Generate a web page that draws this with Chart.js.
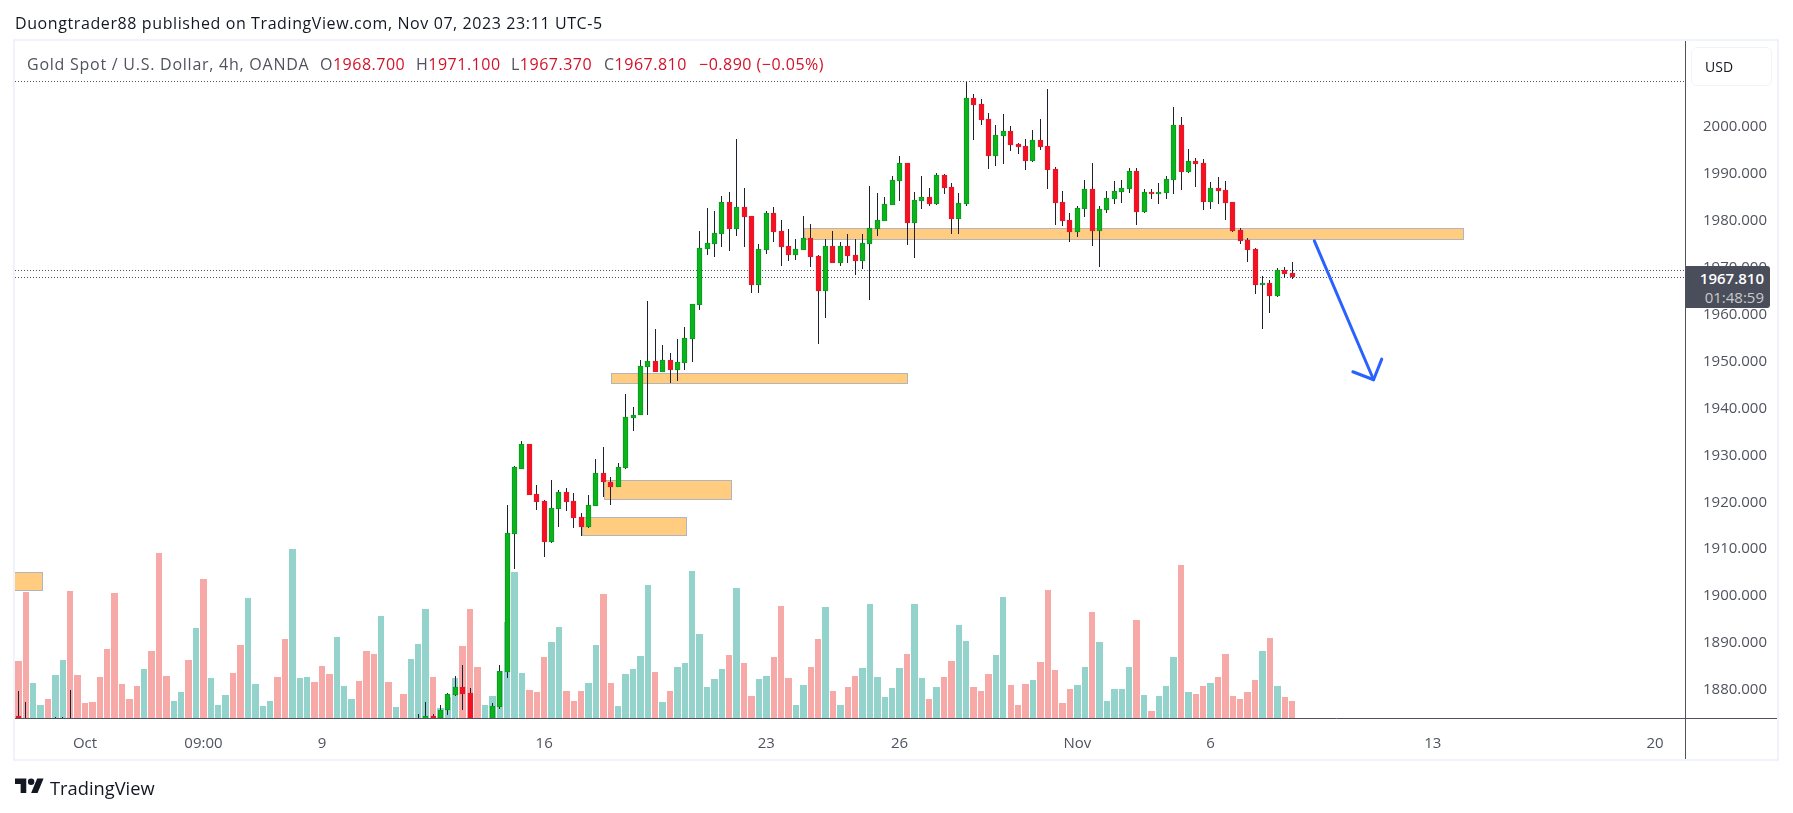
<!DOCTYPE html>
<html>
<head>
<meta charset="utf-8">
<title>Gold Spot / U.S. Dollar, 4h</title>
<script src="https://cdn.jsdelivr.net/npm/chart.js@4/dist/chart.umd.min.js"></script>
<style>
    html, body { margin: 0; padding: 0; background: #fff; overflow: hidden; }
    body { width: 1793px; height: 813px; position: relative; font-family: "Open Sans", sans-serif; }
    #chart { position: absolute; left: 0; top: 0; }
    .txt { position: absolute; white-space: nowrap; line-height: 20px; }
    #published { left: 15px; top: 13px; font-size: 16px; letter-spacing: 0.6px; color: #131722; }
    .legend { top: 54px; font-size: 16px; letter-spacing: 0.5px; color: #50535e; }
    .red { color: #d3122a; }
    #usd { position: absolute; left: 1691px; top: 47px; width: 79px; height: 37px; border: 1px solid #f0f3fa; border-radius: 6px; box-sizing: content-box; }
    #usd span { position: absolute; left: 13px; top: 9px; font-size: 14px; line-height: 20px; color: #131722; }
    #tag { position: absolute; left: 1686px; top: 266px; width: 84px; height: 42px; background: #4a4e5a; border-radius: 0 3px 3px 0; }
    #tag div { position: absolute; left: 0; width: 78px; text-align: right; font-size: 15px; line-height: 20px; }
    #logo { position: absolute; left: 15px; top: 775px; }
    #brand { left: 50px; top: 776px; font-size: 18.3px; line-height: 24px; color: #131722; }
</style>
</head>
<body>
<canvas id="chart" width="1793" height="813"></canvas>

<div class="txt" id="published">Duongtrader88 published on TradingView.com, Nov 07, 2023 23:11 UTC-5</div>

<div class="txt legend" style="left:27px;letter-spacing:0.75px">Gold Spot / U.S. Dollar, 4h, OANDA</div>
<div class="txt legend" style="left:320px">O<span class="red">1968.700</span></div>
<div class="txt legend" style="left:416px">H<span class="red">1971.100</span></div>
<div class="txt legend" style="left:511px">L<span class="red">1967.370</span></div>
<div class="txt legend" style="left:604px">C<span class="red">1967.810</span></div>
<div class="txt legend red" style="left:699px">−0.890 (−0.05%)</div>

<div id="usd"><span>USD</span></div>

<div id="tag">
    <div style="top:2px;color:#fff;font-weight:600">1967.810</div>
    <div style="top:21px;color:#c8c9cc">01:48:59</div>
</div>

<svg id="logo" width="29" height="23" viewBox="0 0 36 28"><path fill="#131722" d="M14 22H7V11H0V4h14v18zM28 22h-8l7.5-18h8L28 22z"/><circle fill="#131722" cx="20" cy="8" r="4"/></svg>
<div class="txt" id="brand">TradingView</div>

<script>
// 4h candles, one slot per bar. null = bar sits wholly below the visible price range
const opens = [
    1874.3, 1872, null, null, null, 1871, 1871, 1871, null, null,
    null, null, null, null, null, null, null, null, null, null,
    null, null, null, null, null, null, null, null, null, null,
    null, null, null, null, null, null, null, null, null, null,
    null, null, null, null, null, null, null, null, null, null,
    null, null, null, null, 1871, 1870, 1874.3, 1873.9, 1875.4, 1878.8,
    1880.5, 1879.2, null, null, 1872, 1876.2, 1883.7, 1913.1, 1926.9, 1932.3,
    1921.6, 1920.1, 1911.4, 1918.4, 1922.0, 1920.1, 1916.7, 1914.6, 1919.0, 1926.1,
    1924.2, 1923.1, 1927.1, 1937.8, 1938.3, 1948.7, 1949.9, 1947.6, 1950.2, 1948.0,
    1949.5, 1954.6, 1961.9, 1973.8, 1974.9, 1977.0, 1983.8, 1978.1, 1982.7, 1980.8,
    1966.1, 1973.6, 1981.5, 1977.6, 1974.4, 1972.5, 1973.6, 1976.1, 1972.3, 1964.8,
    1974.4, 1970.8, 1974.4, 1972.5, 1971.2, 1974.9, 1978.1, 1979.8, 1983.2, 1988.3,
    1992.1, 1979.3, 1984.0, 1984.9, 1983.4, 1989.6, 1987.0, 1980.2, 1983.4, 2006.0,
    2004.7, 2001.5, 1993.6, 1997.9, 1998.9, 1996.2, 1995.7, 1992.5, 1997.0, 1995.7,
    1990.8, 1983.8, 1980.0, 1977.4, 1982.3, 1986.6, 1977.6, 1982.1, 1984.4, 1985.9,
    1986.6, 1990.4, 1981.7, 1985.9, 1985.5, 1985.7, 1988.5, 2000.2, 1990.2, 1992.5,
    1992.1, 1983.8, 1986.8, 1986.4, 1983.8, 1977.8, 1975.7, 1973.8, 1966.1, 1966.6,
    1963.8, 1969.3, 1968.7
];
const highs = [
    1879.6, 1877.3, null, null, null, 1874.1, 1874.1, 1879.8, null, null,
    null, null, null, null, null, null, null, null, null, null,
    null, null, null, null, null, null, null, null, null, null,
    null, null, null, null, null, null, null, null, null, null,
    null, null, null, null, null, null, null, null, null, null,
    null, null, null, null, 1874.7, 1877.3, 1874.7, 1876.6, 1879.2, 1882.8,
    1885.2, 1880.1, null, null, 1876.9, 1885.0, 1919.3, 1927.6, 1932.9, 1932.3,
    1923.5, 1920.3, 1924.6, 1922.5, 1922.9, 1921.8, 1917.6, 1921.4, 1929.1, 1931.6,
    1925.2, 1928.2, 1942.9, 1940.1, 1950.2, 1962.7, 1956.8, 1953.3, 1951.6, 1954.6,
    1957.2, 1962.1, 1977.6, 1982.5, 1981.9, 1985.1, 1985.9, 1997.2, 1986.8, 1980.8,
    1974.9, 1981.9, 1982.7, 1980.0, 1978.1, 1975.9, 1980.8, 1979.1, 1972.5, 1975.9,
    1977.6, 1975.3, 1977.0, 1975.9, 1977.0, 1987.2, 1985.7, 1984.9, 1989.3, 1993.6,
    1992.1, 1985.9, 1989.3, 1986.8, 1990.0, 1989.8, 1987.9, 1985.7, 2009.4, 2006.8,
    2005.8, 2002.8, 2000.2, 2002.6, 2000.0, 1996.4, 1997.2, 1999.1, 2001.5, 2007.9,
    1991.3, 1986.2, 1981.5, 1983.0, 1988.5, 1992.1, 1983.0, 1986.2, 1988.3, 1988.5,
    1991.1, 1991.1, 1986.6, 1986.6, 1987.9, 1989.3, 2004.0, 2001.9, 1995.1, 1993.2,
    1993.0, 1988.1, 1989.1, 1988.3, 1983.8, 1978.3, 1976.1, 1974.0, 1968.0, 1967.2,
    1969.7, 1969.9, 1971.1
];
const lows = [
    1868, 1866, null, null, null, 1868, 1868, 1866, null, null,
    null, null, null, null, null, null, null, null, null, null,
    null, null, null, null, null, null, null, null, null, null,
    null, null, null, null, null, null, null, null, null, null,
    null, null, null, null, null, null, null, null, null, null,
    null, null, null, null, 1868, 1868, 1869, 1873.0, 1874.5, 1878.4,
    1875.4, 1871, null, null, 1871, 1875.8, 1882.4, 1905.6, 1926.9, 1921.4,
    1918.2, 1908.2, 1911.2, 1914.6, 1918.0, 1914.4, 1912.5, 1914.4, 1919.0, 1921.0,
    1919.3, 1923.1, 1926.9, 1935.0, 1938.3, 1938.3, 1947.5, 1947.5, 1945.3, 1945.7,
    1948.0, 1949.7, 1960.8, 1972.5, 1972.1, 1974.2, 1973.4, 1976.6, 1974.2, 1964.4,
    1964.4, 1972.7, 1975.3, 1970.2, 1971.2, 1971.5, 1973.6, 1970.0, 1953.6, 1959.1,
    1970.8, 1970.2, 1970.8, 1968.3, 1969.5, 1962.9, 1976.6, 1979.8, 1983.2, 1984.0,
    1974.7, 1971.9, 1982.3, 1983.0, 1983.2, 1985.5, 1977.0, 1977.0, 1983.0, 1997.0,
    2000.2, 1990.8, 1991.5, 1991.9, 1994.7, 1994.0, 1990.6, 1992.3, 1994.9, 1986.6,
    1978.9, 1978.7, 1975.3, 1976.3, 1980.6, 1974.4, 1970.0, 1981.5, 1983.4, 1983.6,
    1985.7, 1978.9, 1981.5, 1984.4, 1983.4, 1984.4, 1985.5, 1986.4, 1990.0, 1987.0,
    1982.1, 1982.3, 1983.4, 1980.0, 1977.4, 1974.9, 1971.0, 1964.2, 1956.8, 1960.2,
    1963.6, 1967.6, 1967.37
];
const closes = [
    1870, 1870, null, null, null, 1870, 1870, 1870, null, null,
    null, null, null, null, null, null, null, null, null, null,
    null, null, null, null, null, null, null, null, null, null,
    null, null, null, null, null, null, null, null, null, null,
    null, null, null, null, null, null, null, null, null, null,
    null, null, null, null, 1870, 1874.3, 1871, 1875.6, 1879.0, 1880.5,
    1879.0, 1873, null, null, 1876.4, 1883.9, 1913.3, 1927.2, 1932.3, 1921.4,
    1919.9, 1911.4, 1918.6, 1922.0, 1919.9, 1916.5, 1914.6, 1919.3, 1926.1, 1924.0,
    1923.1, 1927.4, 1938.0, 1938.4, 1948.9, 1949.9, 1947.6, 1950.2, 1948.0, 1949.7,
    1954.8, 1962.1, 1974.0, 1975.1, 1977.2, 1983.8, 1978.1, 1982.7, 1980.6, 1966.1,
    1973.8, 1981.5, 1977.4, 1974.2, 1972.5, 1973.8, 1976.1, 1972.1, 1964.8, 1974.4,
    1970.8, 1974.4, 1972.3, 1971.2, 1975.1, 1978.3, 1980.0, 1983.4, 1988.5, 1992.1,
    1979.3, 1984.2, 1984.9, 1983.4, 1989.6, 1986.8, 1980.2, 1983.6, 2006.0, 2004.5,
    2001.3, 1993.6, 1998.1, 1998.9, 1996.0, 1995.5, 1992.5, 1997.0, 1995.5, 1990.6,
    1983.6, 1979.8, 1977.4, 1982.5, 1986.6, 1977.6, 1982.3, 1984.7, 1986.2, 1986.8,
    1990.4, 1981.7, 1985.9, 1985.5, 1985.9, 1988.7, 2000.2, 1990.2, 1992.5, 1991.9,
    1983.8, 1986.8, 1986.2, 1983.6, 1977.6, 1975.5, 1973.6, 1966.1, 1966.6, 1963.8,
    1969.3, 1968.5, 1967.81
];

// volume per bar, and whether that bar's volume column is the rising colour (1) or falling (0)
const volumes = [
    172, 379, 106, 40, 58, 130, 175, 382, 130, 46,
    49, 124, 208, 376, 103, 58, 97, 148, 202, 496,
    127, 52, 79, 175, 271, 418, 121, 40, 70, 136,
    220, 361, 103, 37, 52, 124, 238, 508, 121, 124,
    109, 157, 133, 244, 97, 58, 112, 202, 193, 307,
    109, 34, 73, 178, 223, 328, 124, 31, 64, 121,
    217, 328, 154, 40, 67, 140, 289, 439, 136, 85,
    79, 184, 229, 274, 82, 52, 82, 106, 220, 373,
    106, 37, 133, 148, 187, 400, 139, 49, 82, 154,
    166, 442, 253, 94, 118, 148, 190, 391, 166, 67,
    118, 127, 184, 337, 121, 40, 100, 154, 238, 334,
    82, 40, 94, 127, 151, 343, 124, 64, 91, 151,
    193, 343, 121, 58, 94, 124, 172, 280, 232, 94,
    82, 133, 190, 364, 100, 40, 103, 115, 169, 385,
    145, 46, 88, 100, 154, 319, 229, 52, 88, 88,
    154, 295, 70, 22, 67, 97, 184, 460, 79, 73,
    97, 106, 124, 193, 67, 58, 79, 115, 202, 241,
    97, 64, 52
];
const volumeRising = [
    0, 0, 1, 1, 0, 1, 1, 0, 0, 0,
    0, 0, 0, 0, 0, 0, 0, 1, 0, 0,
    0, 1, 1, 0, 1, 0, 1, 1, 1, 0,
    0, 1, 1, 1, 1, 0, 0, 1, 1, 1,
    0, 0, 0, 1, 1, 1, 0, 0, 0, 1,
    0, 1, 0, 1, 1, 1, 0, 1, 1, 1,
    0, 0, 0, 1, 1, 1, 1, 1, 1, 0,
    0, 0, 1, 1, 0, 0, 0, 1, 1, 0,
    0, 1, 1, 1, 1, 1, 0, 1, 0, 1,
    1, 1, 1, 1, 1, 1, 0, 1, 0, 0,
    1, 1, 0, 0, 0, 1, 1, 0, 0, 1,
    0, 1, 0, 0, 1, 1, 1, 1, 1, 1,
    0, 1, 1, 0, 1, 0, 0, 1, 1, 0,
    0, 0, 1, 1, 0, 0, 0, 1, 0, 0,
    0, 0, 0, 1, 1, 0, 1, 1, 1, 1,
    1, 0, 1, 0, 1, 1, 1, 0, 1, 0,
    0, 1, 0, 0, 0, 0, 0, 0, 1, 0,
    1, 0, 0
];

// axis labels
const priceTicks = [1880, 1890, 1900, 1910, 1920, 1930, 1940, 1950, 1960, 1970, 1980, 1990, 2000];
const timeTickBars = [9, 25, 41, 71, 101, 119, 143, 161, 191, 221];
const timeTickLabels = ['Oct', '09:00', '9', '16', '23', '26', 'Nov', '6', '13', '20'];

// supply / demand boxes drawn on the chart, in bar numbers and prices
const zoneStartBars = [-2, 76.05, 79.1, 80.05, 106.1];
const zoneEndBars = [3.15, 90.1, 96.2, 120, 195.1];
const zoneTopPrices = [1904.9, 1916.6, 1924.5, 1947.3, 1978.2];
const zoneBottomPrices = [1901.0, 1912.7, 1920.4, 1945.1, 1975.8];

// high of the range, last high, last close
const dottedPrices = [2009.5, 1969.3, 1967.81];

// the projected move, shaft then arrow head
const arrowShaftBars = [175, 183];
const arrowShaftPrices = [1975.5, 1945.9];
const arrowHeadBars = [180.2, 183, 184.1];
const arrowHeadPrices = [1947.6, 1945.9, 1950.3];

const green = '#0bb41a';
const greenEdge = '#0a9a22';
const red = '#f7101f';
const redEdge = '#dc1c32';
const wickColor = '#1e222d';
const tealVol = '#93d3cc';
const pinkVol = '#f7a9a8';
const axisColor = '#50535e';
const frameColor = '#f0f3fa';

const shownBars = opens.map((_, i) => i).filter(i => opens[i] !== null);

const wickData = shownBars.map(i => ({ x: i, y: [lows[i], highs[i]] }));
const bodyData = shownBars.map(i => ({ x: i, y: [opens[i], closes[i]] }));
const volumeData = volumes.map((v, i) => ({ x: i, y: v }));

function zipPoints(xs, ys) {
    return xs.map((x, i) => ({ x: x, y: ys[i] }));
}

// Bars come out on fractional pixels, snap them so the edges stay sharp
const snapBars = {
    id: 'snapBars',
    afterDatasetsUpdate(chart) {
        chart.data.datasets.forEach((ds, index) => {
            if (ds.type === 'line') return;
            chart.getDatasetMeta(index).data.forEach(el => {
                if (ds.snapWidth === 'fill') {
                    const left = Math.round(el.x - 3.2);
                    const right = Math.round(el.x + 3.2);
                    el.x = (left + right) / 2;
                    el.width = right - left;
                } else {
                    el.x = Math.floor(el.x) + 0.5;
                }
                el.y = Math.round(el.y);
                el.base = Math.round(el.base);
                if (ds.snapWidth === 'body' && Math.abs(el.base - el.y) < 2) {
                    el.base = el.y + 2;
                }
            });
        });
    }
};

// Boxes and dotted price lines go under the candles
const drawings = {
    id: 'drawings',
    beforeDatasetsDraw(chart) {
        const { ctx, chartArea, scales } = chart;
        ctx.save();
        ctx.beginPath();
        ctx.rect(chartArea.left, chartArea.top, chartArea.width, chartArea.height);
        ctx.clip();

        zoneStartBars.forEach((start, i) => {
            const x1 = Math.round(scales.x.getPixelForValue(start)) + 0.5;
            const x2 = Math.round(scales.x.getPixelForValue(zoneEndBars[i])) + 0.5;
            const y1 = Math.round(scales.y.getPixelForValue(zoneTopPrices[i])) + 0.5;
            const y2 = Math.round(scales.y.getPixelForValue(zoneBottomPrices[i])) + 0.5;
            ctx.fillStyle = '#ffcc80';
            ctx.strokeStyle = '#b2b5be';
            ctx.lineWidth = 1;
            ctx.fillRect(x1, y1, x2 - x1, y2 - y1);
            ctx.strokeRect(x1, y1, x2 - x1, y2 - y1);
        });

        ctx.strokeStyle = '#50535e';
        ctx.lineWidth = 1;
        ctx.setLineDash([1, 2]);
        dottedPrices.forEach(price => {
            const y = Math.round(scales.y.getPixelForValue(price)) + 0.5;
            ctx.beginPath();
            ctx.moveTo(chartArea.left, y);
            ctx.lineTo(chartArea.right, y);
            ctx.stroke();
        });
        ctx.restore();
    },
    afterDatasetsDraw(chart) {
        // pane frame and the two axis rules
        const { ctx, chartArea } = chart;
        const right = chart.width - 16;
        const bottom = chart.height - 54;
        ctx.save();
        ctx.strokeStyle = frameColor;
        ctx.lineWidth = 2;
        ctx.strokeRect(chartArea.left - 1, chartArea.top - 1, right - chartArea.left + 2, bottom - chartArea.top + 2);
        ctx.strokeStyle = axisColor;
        ctx.lineWidth = 1;
        ctx.beginPath();
        ctx.moveTo(chartArea.left, Math.floor(chartArea.bottom) + 0.5);
        ctx.lineTo(right, Math.floor(chartArea.bottom) + 0.5);
        ctx.moveTo(Math.floor(chartArea.right) + 0.5, chartArea.top);
        ctx.lineTo(Math.floor(chartArea.right) + 0.5, bottom);
        ctx.stroke();
        ctx.restore();
    }
};

const ctx = document.getElementById('chart').getContext('2d');
new Chart(ctx, {
    type: 'bar',
    data: {
        datasets: [
            {
                type: 'line',
                data: zipPoints(arrowShaftBars, arrowShaftPrices),
                borderColor: '#2962ff',
                borderWidth: 3,
                borderCapStyle: 'round',
                pointRadius: 0,
                order: 0,
                yAxisID: 'y'
            },
            {
                type: 'line',
                data: zipPoints(arrowHeadBars, arrowHeadPrices),
                borderColor: '#2962ff',
                borderWidth: 3,
                borderCapStyle: 'round',
                borderJoinStyle: 'round',
                pointRadius: 0,
                order: 0,
                yAxisID: 'y'
            },
            {
                data: bodyData,
                backgroundColor: shownBars.map(i => closes[i] >= opens[i] ? green : red),
                borderColor: shownBars.map(i => closes[i] >= opens[i] ? greenEdge : redEdge),
                borderWidth: 1,
                borderSkipped: false,
                barThickness: 5,
                grouped: false,
                snapWidth: 'body',
                order: 1,
                yAxisID: 'y'
            },
            {
                data: wickData,
                backgroundColor: wickColor,
                barThickness: 1,
                inflateAmount: 0,
                grouped: false,
                order: 2,
                yAxisID: 'y'
            },
            {
                data: volumeData,
                backgroundColor: volumeRising.map(up => up ? tealVol : pinkVol),
                barThickness: 6,
                inflateAmount: 0,
                grouped: false,
                snapWidth: 'fill',
                order: 3,
                yAxisID: 'vol'
            }
        ]
    },
    options: {
        responsive: false,
        animation: false,
        events: [],
        layout: { padding: { left: 15, top: 41, right: 16, bottom: 54 } },
        plugins: {
            legend: { display: false },
            tooltip: { enabled: false }
        },
        scales: {
            x: {
                type: 'linear',
                min: -0.45,
                max: 225.05,
                offset: false,
                grid: { display: false },
                border: { display: false },
                afterBuildTicks: axis => {
                    axis.ticks = timeTickBars.map(v => ({ value: v }));
                },
                afterFit: axis => { axis.height = 41; },
                ticks: {
                    autoSkip: false,
                    maxRotation: 0,
                    padding: 9,
                    color: axisColor,
                    font: { family: '"Open Sans", sans-serif', size: 15 },
                    callback: value => timeTickLabels[timeTickBars.indexOf(value)]
                }
            },
            y: {
                position: 'right',
                min: 1873.8,
                max: 2018.1,
                grid: { display: false },
                border: { display: false },
                afterBuildTicks: axis => {
                    axis.ticks = priceTicks.map(v => ({ value: v }));
                },
                afterFit: axis => { axis.width = 92; },
                ticks: {
                    autoSkip: false,
                    padding: 10,
                    labelOffset: 1,
                    color: axisColor,
                    font: { family: '"Open Sans", sans-serif', size: 15 },
                    callback: value => value.toFixed(3)
                }
            },
            vol: {
                display: false,
                min: 0,
                max: 2032
            }
        }
    },
    plugins: [snapBars, drawings]
});
</script>
</body>
</html>
